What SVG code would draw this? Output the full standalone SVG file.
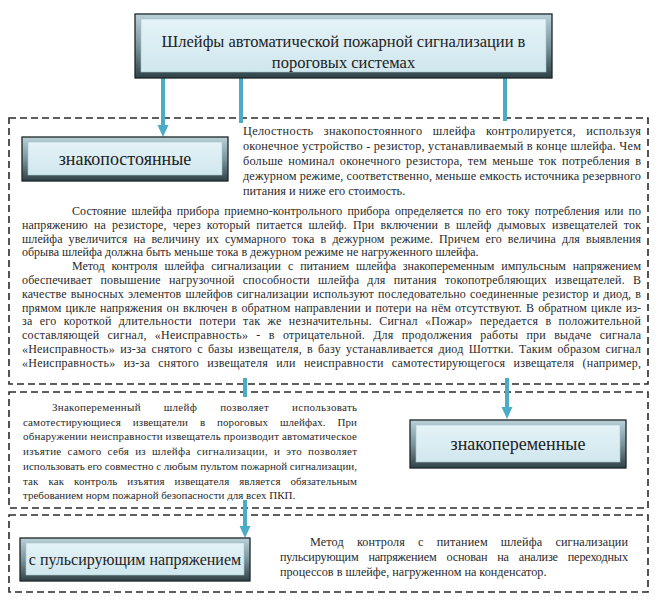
<svg xmlns="http://www.w3.org/2000/svg" width="658" height="600" viewBox="0 0 658 600">
<defs>
<linearGradient id="frame" x1="0" y1="0" x2="0" y2="1">
<stop offset="0" stop-color="#b9d1d7"/>
<stop offset="0.5" stop-color="#7b959c"/>
<stop offset="1" stop-color="#2f4146"/>
</linearGradient>
<linearGradient id="face" x1="0" y1="0" x2="0" y2="1">
<stop offset="0" stop-color="#e4f3f7"/>
<stop offset="1" stop-color="#d0e7ee"/>
</linearGradient>
<marker id="arr" markerUnits="userSpaceOnUse" markerWidth="12" markerHeight="12" refX="4" refY="6" orient="auto">
<path d="M0,0.5 L12,6 L0,11.5 z" fill="#4bacc6"/>
</marker>
</defs>
<style>
text{font-family:"Liberation Serif","Times New Roman",serif}
.frame{fill:url(#frame);stroke:#1c2629;stroke-width:1.3}
.face{fill:url(#face);stroke:#a9c6cd;stroke-width:0.6}
.lbl{fill:#222;text-anchor:middle}
.dash{fill:none;stroke:#2b2b2b;stroke-width:1.6;stroke-dasharray:7 4}
.con{stroke:#4bacc6;stroke-width:4;fill:none}
.p{fill:#2a2a2a}
.p1{font-size:12.3px}
.p2{font-size:12px}
.p3{font-size:11px}
.p4{font-size:12.2px}
</style>
<rect width="658" height="600" fill="#ffffff"/>

<g id="sections">
<rect class="dash" x="9" y="118" width="639" height="266"/>
<rect class="dash" x="9" y="392" width="639" height="116"/>
<rect class="dash" x="9" y="515" width="639" height="77"/>
</g>

<g id="connectors">
<line class="con" x1="163" y1="78" x2="163" y2="129" marker-end="url(#arr)"/>
<line class="con" x1="241" y1="78" x2="241" y2="123"/>
<line class="con" x1="505" y1="78" x2="505" y2="121"/>
<line class="con" x1="245" y1="378" x2="245" y2="397"/>
<line class="con" x1="507" y1="378" x2="507" y2="411" marker-end="url(#arr)"/>
<line class="con" x1="245" y1="500" x2="245" y2="530" marker-end="url(#arr)"/>
</g>

<g id="title">
<rect class="frame" x="135" y="14" width="417" height="64"/>
<rect class="face" x="141" y="19" width="405" height="53"/>
<text class="lbl" x="343.5" y="47" font-size="16.5">Шлейфы автоматической пожарной сигнализации в</text>
<text class="lbl" x="343.5" y="68" font-size="16.5">пороговых системах</text>
</g>

<g id="node-dc">
<rect class="frame" x="22" y="137" width="206" height="44"/>
<rect class="face" x="28" y="142" width="194" height="33"/>
<text class="lbl" x="125" y="165" font-size="18">знакопостоянные</text>
</g>

<g id="node-ac">
<rect class="frame" x="410" y="420" width="216" height="48"/>
<rect class="face" x="416" y="425" width="204" height="37"/>
<text class="lbl" x="518" y="450" font-size="18">знакопеременные</text>
</g>

<g id="node-pulse">
<rect class="frame" x="20" y="538" width="230" height="43"/>
<rect class="face" x="26" y="543" width="218" height="32"/>
<text class="lbl" x="135" y="565" font-size="16">с пульсирующим напряжением</text>
</g>

<g id="text-dc">
<text class="p p1" x="243" y="135" textLength="398" lengthAdjust="spacing" word-spacing="7">Целостность знакопостоянного шлейфа контролируется, используя</text>
<text class="p p1" x="243" y="150" textLength="398" lengthAdjust="spacing">оконечное устройство - резистор, устанавливаемый в конце шлейфа. Чем</text>
<text class="p p1" x="243" y="165" textLength="398" lengthAdjust="spacing" word-spacing="2">больше номинал оконечного резистора, тем меньше ток потребления в</text>
<text class="p p1" x="243" y="180" textLength="398" lengthAdjust="spacing">дежурном режиме, соответственно, меньше емкость источника резервного</text>
<text class="p p1" x="243" y="195">питания и ниже его стоимость.</text>

<text class="p p2" x="72" y="215" textLength="569" lengthAdjust="spacing" word-spacing="2">Состояние шлейфа прибора приемно-контрольного прибора определяется по его току потребления или по</text>
<text class="p p2" x="22" y="228.8" textLength="619" lengthAdjust="spacing" word-spacing="3">напряжению на резисторе, через который питается шлейф. При включении в шлейф дымовых извещателей ток</text>
<text class="p p2" x="22" y="242.6" textLength="619" lengthAdjust="spacing" word-spacing="3">шлейфа увеличится на величину их суммарного тока в дежурном режиме. Причем его величина для выявления</text>
<text class="p p2" x="22" y="256.4">обрыва шлейфа должна быть меньше тока в дежурном режиме не нагруженного шлейфа.</text>
<text class="p p2" x="72" y="270.2" textLength="569" lengthAdjust="spacing" word-spacing="4">Метод контроля шлейфа сигнализации с питанием шлейфа знакопеременным импульсным напряжением</text>
<text class="p p2" x="22" y="284" textLength="619" lengthAdjust="spacing" word-spacing="5">обеспечивает повышение нагрузочной способности шлейфа для питания токопотребляющих извещателей. В</text>
<text class="p p2" x="22" y="297.8" textLength="619" lengthAdjust="spacing" word-spacing="1">качестве выносных элементов шлейфов сигнализации используют последовательно соединенные резистор и диод, в</text>
<text class="p p2" x="22" y="311.6" textLength="619" lengthAdjust="spacing" word-spacing="1">прямом цикле напряжения он включен в обратном направлении и потери на нём отсутствуют. В обратном цикле из-</text>
<text class="p p2" x="22" y="325.4" textLength="619" lengthAdjust="spacing" word-spacing="4">за его короткой длительности потери так же незначительны. Сигнал «Пожар» передается в положительной</text>
<text class="p p2" x="22" y="339.2" textLength="619" lengthAdjust="spacing" word-spacing="5">составляющей сигнал, «Неисправность» - в отрицательной. Для продолжения работы при выдаче сигнала</text>
<text class="p p2" x="22" y="353" textLength="619" lengthAdjust="spacing" word-spacing="2">«Неисправность» из-за снятого с базы извещателя, в базу устанавливается диод Шоттки. Таким образом сигнал</text>
<text class="p p2" x="22" y="366.8" textLength="619" lengthAdjust="spacing" word-spacing="5">«Неисправность» из-за снятого извещателя или неисправности самотестирующегося извещателя (например,</text>
</g>

<g id="text-ac">
<text class="p p3" x="52" y="411" textLength="305" lengthAdjust="spacing" word-spacing="20">Знакопеременный шлейф позволяет использовать</text>
<text class="p p3" x="23" y="425.7" textLength="334" lengthAdjust="spacing" word-spacing="9">самотестирующиеся извещатели в пороговых шлейфах. При</text>
<text class="p p3" x="23" y="440.4" textLength="334" lengthAdjust="spacing">обнаружении неисправности извещатель производит автоматическое</text>
<text class="p p3" x="23" y="455.1" textLength="334" lengthAdjust="spacing" word-spacing="3">изъятие самого себя из шлейфа сигнализации, и это позволяет</text>
<text class="p p3" x="23" y="469.8" textLength="334" lengthAdjust="spacing">использовать его совместно с любым пультом пожарной сигнализации,</text>
<text class="p p3" x="23" y="484.5" textLength="334" lengthAdjust="spacing" word-spacing="7">так как контроль изъятия извещателя является обязательным</text>
<text class="p p3" x="23" y="499.2">требованием норм пожарной безопасности для всех ПКП.</text>
</g>

<g id="text-pulse">
<text class="p p4" x="310" y="546" textLength="318" lengthAdjust="spacing" word-spacing="10">Метод контроля с питанием шлейфа сигнализации</text>
<text class="p p4" x="280" y="561" textLength="348" lengthAdjust="spacing" word-spacing="7">пульсирующим напряжением основан на анализе переходных</text>
<text class="p p4" x="280" y="576">процессов в шлейфе, нагруженном на конденсатор.</text>
</g>
</svg>
